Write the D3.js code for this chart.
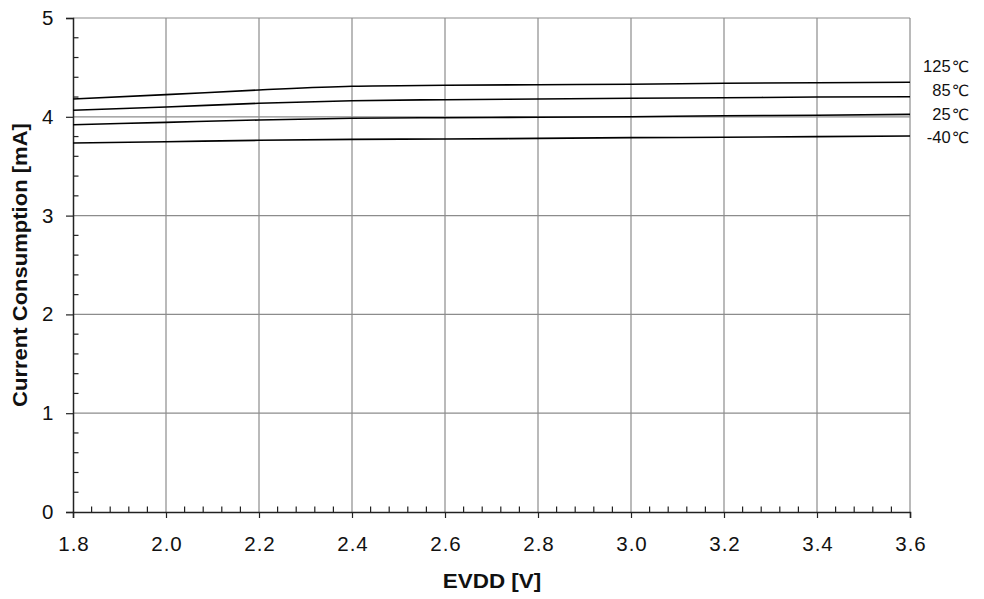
<!DOCTYPE html>
<html><head><meta charset="utf-8">
<script src="https://cdn.jsdelivr.net/npm/d3@7"></script>
<style>body{margin:0;background:#fff}svg{display:block}text{font-family:"Liberation Sans",Arial,sans-serif}</style>
</head><body><svg id="c" width="984" height="599"></svg>
<script>
const voltages = [1.8, 2.0, 2.2, 2.4, 2.6, 2.8, 3.0, 3.2, 3.4, 3.6];
const t125 = [4.180, 4.224, 4.271, 4.309, 4.319, 4.325, 4.329, 4.339, 4.345, 4.349];
const t85  = [4.066, 4.099, 4.137, 4.163, 4.173, 4.180, 4.187, 4.193, 4.200, 4.203];
const t25  = [3.920, 3.944, 3.968, 3.985, 3.991, 3.995, 4.001, 4.011, 4.015, 4.025];
const tm40 = [3.735, 3.748, 3.762, 3.772, 3.775, 3.782, 3.789, 3.793, 3.799, 3.806];
const seriesNames = ["125℃", "85℃", "25℃", "-40℃"];
const labelValues = [4.514, 4.266, 4.028, 3.796];
const xTicks = [1.8, 2.0, 2.2, 2.4, 2.6, 2.8, 3.0, 3.2, 3.4, 3.6];
const yTicks = [0, 1, 2, 3, 4, 5];
const xTitle = "EVDD [V]";
const yTitle = "Current Consumption [mA]";

const series = [t125, t85, t25, tm40];
const svg = d3.select("#c");
const L = 73, R = 910, T = 18, B = 512;
const x = d3.scaleLinear().domain([1.8, 3.6]).range([L, R]);
const y = d3.scaleLinear().domain([0, 5]).range([B, T]);
const FONT = '"Liberation Sans", Arial, sans-serif';

// grid
const g = svg.append("g");
g.selectAll(".vg").data(xTicks.slice(1)).join("line")
  .attr("x1", d => x(d)).attr("x2", d => x(d)).attr("y1", T).attr("y2", B)
  .attr("stroke", "#8c8c8c").attr("stroke-width", 1.2);
g.selectAll(".hg").data(yTicks.slice(1)).join("line")
  .attr("x1", L).attr("x2", R).attr("y1", d => y(d)).attr("y2", d => y(d))
  .attr("stroke", "#8c8c8c").attr("stroke-width", 1.2);

// minor ticks
const xMinor = d3.range(0, 46).map(i => 1.8 + i * 0.04).filter((d, i) => i % 5 !== 0);
g.selectAll(".xm").data(xMinor).join("line")
  .attr("x1", d => x(d)).attr("x2", d => x(d)).attr("y1", B).attr("y2", B - 5.5)
  .attr("stroke", "#222").attr("stroke-width", 1.2);
const yMinor = d3.range(0, 26).map(i => i * 0.2).filter((d, i) => i % 5 !== 0);
g.selectAll(".ym").data(yMinor).join("line")
  .attr("x1", L).attr("x2", L + 5.5).attr("y1", d => y(d)).attr("y2", d => y(d))
  .attr("stroke", "#222").attr("stroke-width", 1.2);

// axes
const xAxis = svg.append("g").attr("transform", `translate(0,${B})`)
  .call(d3.axisBottom(x).tickValues(xTicks).tickFormat(d3.format(".1f")).tickSize(6).tickPadding(18.8));
const yAxis = svg.append("g").attr("transform", `translate(${L},0)`)
  .call(d3.axisLeft(y).tickValues(yTicks).tickFormat(d3.format("d")).tickSize(7).tickPadding(12.5));
[xAxis, yAxis].forEach(a => {
  a.select(".domain").attr("stroke", "#222").attr("stroke-width", 1.5);
  a.selectAll(".tick line").attr("stroke", "#222").attr("stroke-width", 1.2);
  a.selectAll("text").attr("font-size", 20.5).attr("fill", "#111").style("font-family", FONT);
});
xAxis.selectAll("text").attr("dy", "0.71em").style("letter-spacing", "1px").attr("dx", 0.5);

// lines
const line = d3.line().x((d, i) => x(voltages[i])).y(d => y(d)).curve(d3.curveMonotoneX);
svg.selectAll(".s").data(series).join("path")
  .attr("d", d => line(d)).attr("fill", "none").attr("stroke", "#000").attr("stroke-width", 1.6);

// labels
const labs = svg.selectAll(".lab").data(seriesNames).join("text")
  .attr("x", 968.5).attr("y", (d, i) => y(labelValues[i]))
  .attr("dy", "0.36em").attr("text-anchor", "end").attr("font-size", 16.5).attr("fill", "#111");
labs.append("tspan").style("font-family", FONT).text(d => d.slice(0, -1));
labs.append("tspan").attr("dx", 1.5).style("font-family", '"DejaVu Sans", sans-serif').style("letter-spacing", "-1px")
  .attr("font-size", 15.5).text(d => d.slice(-1));

// titles
svg.append("text").attr("transform", `translate(${(L + R) / 2 + 0.5},588.3) scale(1.15,1)`)
  .attr("text-anchor", "middle")
  .attr("font-size", 19.5).attr("font-weight", "bold").attr("fill", "#111").text(xTitle);
svg.append("text").attr("transform", `translate(27,${(T + B) / 2}) rotate(-90) scale(1.13,1)`)
  .attr("text-anchor", "middle").attr("font-size", 19.5).attr("font-weight", "bold").attr("fill", "#111")
  .text(yTitle);
</script></body></html>
